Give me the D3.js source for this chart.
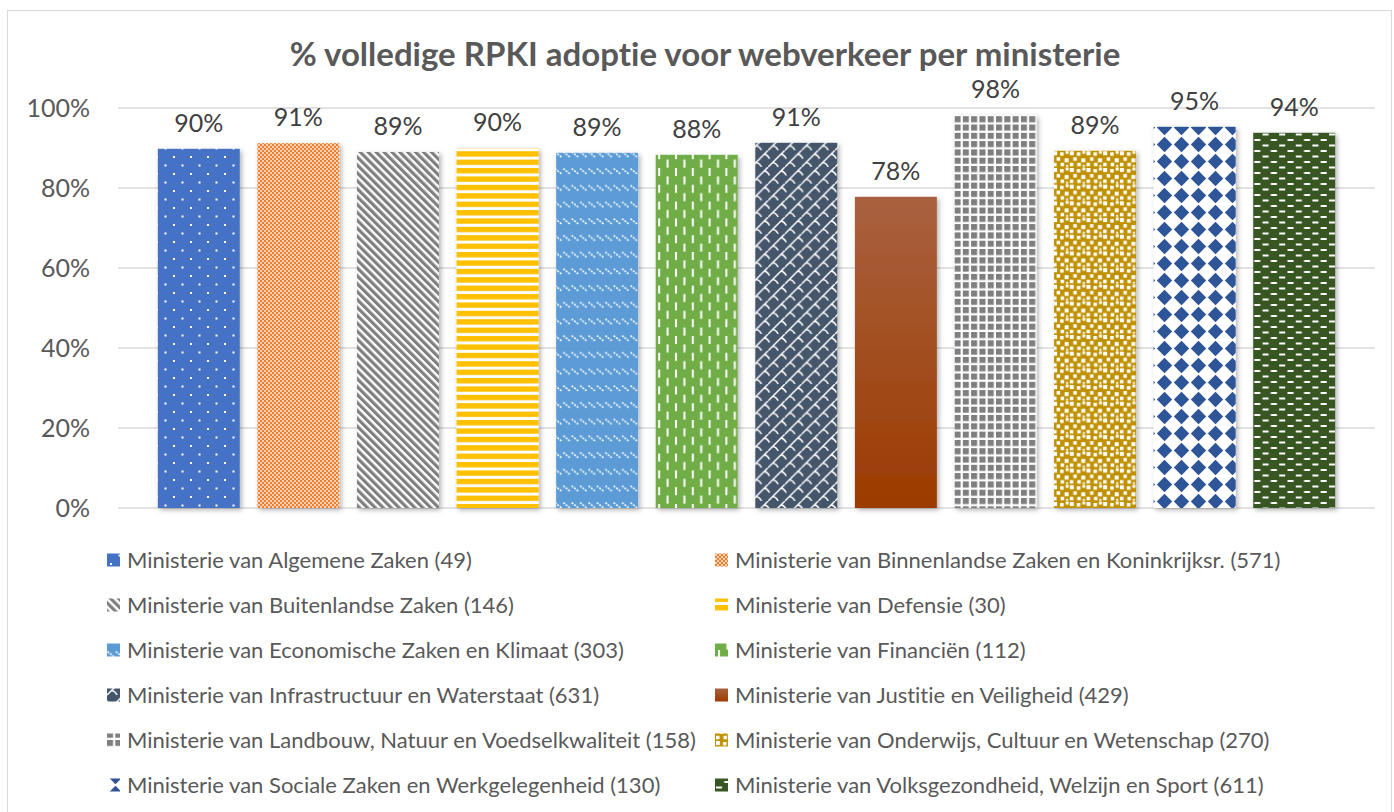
<!DOCTYPE html>
<html>
<head>
<meta charset="utf-8">
<script src="https://cdn.jsdelivr.net/npm/d3@7"></script>
<style>
  body { margin: 0; background: #fff; }
  svg text { font-family: Lato, "Open Sans", sans-serif; font-variant-ligatures: none; }
</style>
</head>
<body>
<svg id="chart" width="1394" height="812"></svg>
<script>
const ministries = [
  'Ministerie van Algemene Zaken (49)',
  'Ministerie van Binnenlandse Zaken en Koninkrijksr. (571)',
  'Ministerie van Buitenlandse Zaken (146)',
  'Ministerie van Defensie (30)',
  'Ministerie van Economische Zaken en Klimaat (303)',
  'Ministerie van Financiën (112)',
  'Ministerie van Infrastructuur en Waterstaat (631)',
  'Ministerie van Justitie en Veiligheid (429)',
  'Ministerie van Landbouw, Natuur en Voedselkwaliteit (158)',
  'Ministerie van Onderwijs, Cultuur en Wetenschap (270)',
  'Ministerie van Sociale Zaken en Werkgelegenheid (130)',
  'Ministerie van Volksgezondheid, Welzijn en Sport (611)'
]
const adoption = [0.898, 0.912, 0.89, 0.90, 0.888, 0.883, 0.913, 0.778, 0.982, 0.893, 0.953, 0.938]
const yTicks = [0, 0.2, 0.4, 0.6, 0.8, 1.0]
const fills = ['p-dots', 'p-check', 'p-diag', 'p-hstripe', 'p-dashdiag', 'p-dashvert',
  'p-shingle', 'g-brown', 'p-grid', 'p-confetti', 'p-diamond', 'p-dashhor']

const svg = d3.select('#chart')
const defs = svg.append('defs')

// outer chart border
svg.append('rect')
  .attr('x', 7.5).attr('y', 10.5)
  .attr('width', 1384).attr('height', 820)
  .attr('fill', '#fff').attr('stroke', '#d9d9d9')

// ---- patterns ----
function pat(id, w, h, bg) {
  const p = defs.append('pattern').attr('id', id)
    .attr('patternUnits', 'userSpaceOnUse')
    .attr('width', w).attr('height', h)
  p.append('rect').attr('width', w).attr('height', h).attr('fill', bg)
  return p
}

let p = pat('p-dots', 17, 17, '#4472C4')
p.append('rect').attr('x', 3).attr('y', 3).attr('width', 2).attr('height', 2).attr('fill', '#fff')
p.append('rect').attr('x', 11.5).attr('y', 11.5).attr('width', 2).attr('height', 2).attr('fill', '#fff')

p = pat('p-check', 4, 4, '#fbd2b4')
p.append('rect').attr('x', 0).attr('y', 0).attr('width', 2).attr('height', 2).attr('fill', '#ED7D31')
p.append('rect').attr('x', 2).attr('y', 2).attr('width', 2).attr('height', 2).attr('fill', '#ED7D31')

p = pat('p-diag', 5.6, 5.6, '#fff')
p.attr('patternTransform', 'rotate(-45)')
p.append('rect').attr('x', 0).attr('y', 0).attr('width', 3.2).attr('height', 5.6).attr('fill', '#7F7F7F')

p = pat('p-hstripe', 8, 8.4, '#fff')
p.append('rect').attr('x', 0).attr('y', 0).attr('width', 8).attr('height', 5.4).attr('fill', '#FFC000')

p = pat('p-dashdiag', 8.4, 16.7, '#5B9BD5')
p.append('path').attr('d', 'M0.5,1.5 L7,6.8').attr('stroke', '#fff').attr('stroke-width', 1.6)
  .attr('stroke-dasharray', '2 1.2')

p = pat('p-dashvert', 16.8, 16.8, '#70AD47')
p.append('rect').attr('x', 3).attr('y', 0).attr('width', 2).attr('height', 8).attr('fill', '#fff')
p.append('rect').attr('x', 11.4).attr('y', 8.4).attr('width', 2).attr('height', 8).attr('fill', '#fff')

p = pat('p-shingle', 16.7, 16.7, '#44546A')
p.append('path')
  .attr('d', 'M0,16.7 L16.7,0 M-4,4 L0,0 M4.5,12.2 Q8,12.5 10,16.7 M12.9,3.8 Q16,4.2 18,8.4 M-3.8,3.8 Q-0.7,4.2 1.3,8.4')
  .attr('fill', 'none').attr('stroke', '#fff').attr('stroke-width', 1.5)

const gr = defs.append('linearGradient').attr('id', 'g-brown')
  .attr('x1', 0).attr('y1', 0).attr('x2', 0).attr('y2', 1)
gr.append('stop').attr('offset', '0%').attr('stop-color', '#A9613F')
gr.append('stop').attr('offset', '100%').attr('stop-color', '#9C3B00')

p = pat('p-grid', 8.3, 8.3, '#fff')
p.append('rect').attr('x', 0).attr('y', 0).attr('width', 6.1).attr('height', 6.1).attr('fill', '#7F7F7F')

p = pat('p-confetti', 16.7, 16.7, '#BF9000')
;[[1, 1, 4], [8, 2, 3.5], [4.5, 7, 3.5], [12.5, 8, 4], [1, 12.5, 3.5], [8.5, 12.5, 3.5], [13.5, 0.5, 3], [14, 14.5, 2]].forEach(s => {
  p.append('rect').attr('x', s[0]).attr('y', s[1]).attr('width', s[2]).attr('height', s[2]).attr('fill', '#fff')
})

p = pat('p-diamond', 17, 17, '#fff')
p.append('path').attr('d', 'M8.5,0.8 L16.2,8.5 L8.5,16.2 L0.8,8.5 Z').attr('fill', '#2F5597')

p = pat('p-dashhor', 16.6, 11, '#375623')
p.append('rect').attr('x', 1).attr('y', 1.5).attr('width', 6).attr('height', 2).attr('fill', '#fff')
p.append('rect').attr('x', 9.3).attr('y', 7).attr('width', 6).attr('height', 2).attr('fill', '#fff')

// soft shadow under bars
const f = defs.append('filter').attr('id', 'shadow')
  .attr('x', '-20%').attr('y', '-20%').attr('width', '140%').attr('height', '140%')
f.append('feDropShadow').attr('dx', 2).attr('dy', 2).attr('stdDeviation', 2.5)
  .attr('flood-color', '#000').attr('flood-opacity', 0.3)

// ---- scales ----
const x = d3.scaleBand()
  .domain(ministries)
  .range([149, 1344])
  .paddingInner(0.177)
  .paddingOuter(0.0885)

const y = d3.scaleLinear()
  .domain([0, 1])
  .range([508, 108])

// title
svg.append('text')
  .attr('x', 705).attr('y', 66)
  .attr('text-anchor', 'middle')
  .attr('font-size', 33).attr('font-weight', 'bold')
  .attr('fill', '#595959')
  .text('% volledige RPKI adoptie voor webverkeer per ministerie')

// gridlines
svg.append('g')
  .selectAll('line')
  .data(yTicks)
  .enter()
  .append('line')
  .attr('x1', 118).attr('x2', 1375)
  .attr('y1', d => y(d)).attr('y2', d => y(d))
  .attr('stroke', '#d9d9d9').attr('stroke-width', 1.3)

// y axis labels
const yAxis = svg.append('g')
  .attr('transform', 'translate(96,0)')
  .call(d3.axisLeft(y).tickValues(yTicks).tickFormat(d3.format('.0%')).tickSize(0).tickPadding(6))
yAxis.select('.domain').remove()
yAxis.selectAll('text')
  .attr('font-size', 25).attr('fill', '#595959')

// bars
svg.append('g')
  .selectAll('rect')
  .data(adoption)
  .enter()
  .append('rect')
  .attr('x', (d, i) => x(ministries[i]))
  .attr('y', d => y(d))
  .attr('width', x.bandwidth())
  .attr('height', d => y(0) - y(d))
  .attr('fill', (d, i) => `url(#${fills[i]})`)
  .attr('filter', 'url(#shadow)')

// value labels
svg.append('g')
  .selectAll('text')
  .data(adoption)
  .enter()
  .append('text')
  .attr('x', (d, i) => x(ministries[i]) + x.bandwidth() / 2)
  .attr('y', d => y(d) - 17)
  .attr('text-anchor', 'middle')
  .attr('font-size', 25).attr('fill', '#404040')
  .text(d => d3.format('.0%')(d))

// legend, two columns
const legend = svg.append('g')
  .selectAll('g')
  .data(ministries)
  .enter()
  .append('g')
  .attr('transform', (d, i) => `translate(${i % 2 ? 715 : 107}, ${560 + Math.floor(i / 2) * 45})`)

legend.append('rect')
  .attr('x', 0).attr('y', -6.5)
  .attr('width', 13).attr('height', 13)
  .attr('fill', (d, i) => `url(#${fills[i]})`)

legend.append('text')
  .attr('x', 20).attr('y', 8)
  .attr('font-size', 22).attr('fill', '#595959')
  .text(d => d)
</script>
</body>
</html>
